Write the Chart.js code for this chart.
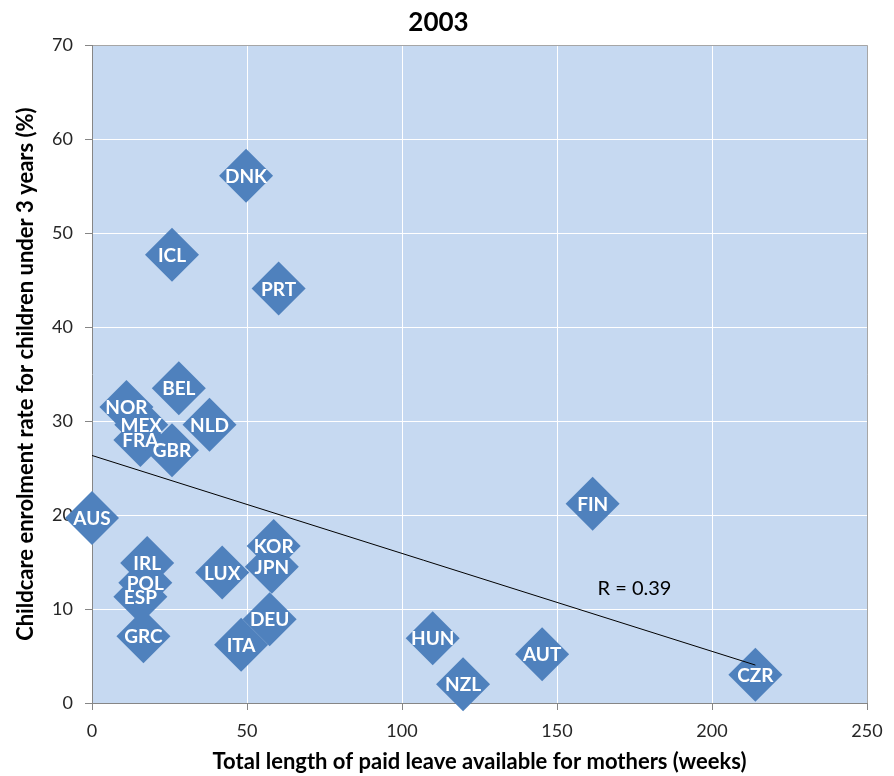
<!DOCTYPE html>
<html>
<head>
<meta charset="utf-8">
<script src="https://cdn.jsdelivr.net/npm/chart.js@4"></script>
<style>
  html, body { margin: 0; padding: 0; background: #fff; }
  #wrap { width: 894px; height: 776px; }
</style>
</head>
<body>
<div id="wrap"><canvas id="myChart" width="894" height="776"></canvas></div>
<script>
const countries = ["DNK", "ICL", "PRT", "BEL", "NOR", "MEX", "FRA", "GBR", "NLD", "AUS", "IRL", "POL",
  "ESP", "GRC", "LUX", "KOR", "JPN", "DEU", "ITA", "HUN", "NZL", "AUT", "FIN", "CZR"];
const leaveWeeks = [49.7, 25.8, 60.2, 28, 11.1, 15.9, 15.6, 25.8, 37.9, 0, 17.8, 17.2,
  15.6, 16.6, 42, 58.6, 58, 57.3, 48.1, 109.9, 119.7, 145.2, 161.5, 214];
const enrolment = [56.1, 47.7, 44.1, 33.5, 31.5, 29.6, 28, 26.9, 29.6, 19.7, 14.9, 12.8,
  11.3, 7.1, 13.9, 16.7, 14.5, 8.9, 6.2, 6.9, 2.0, 5.2, 21.2, 3.0];
const xTicks = [0, 50, 100, 150, 200, 250];
const yTicks = [0, 10, 20, 30, 40, 50, 60, 70];
const rLabel = "R = 0.39";
const rLabelAt = [175, 12.2];

// least squares trend line over the data
const n = leaveWeeks.length;
const mx = leaveWeeks.reduce((a, b) => a + b, 0) / n;
const my = enrolment.reduce((a, b) => a + b, 0) / n;
let sxy = 0, sxx = 0;
for (let i = 0; i < n; i++) {
  sxy += (leaveWeeks[i] - mx) * (enrolment[i] - my);
  sxx += (leaveWeeks[i] - mx) ** 2;
}
const slope = sxy / sxx;
const intercept = my - slope * mx;
const xMin = Math.min(...leaveWeeks), xMax = Math.max(...leaveWeeks);
const trend = [xMin, xMax].map(x => ({ x: x, y: intercept + slope * x }));

const FONT = "Lato, 'Open Sans', sans-serif";

const plotBg = {
  id: 'plotBg',
  beforeDraw(chart) {
    const { ctx, chartArea } = chart;
    ctx.save();
    ctx.fillStyle = '#fff';
    ctx.fillRect(0, 0, chart.width, chart.height);
    ctx.fillStyle = '#C6D9F1';
    ctx.fillRect(chartArea.left, chartArea.top, chartArea.right - chartArea.left, chartArea.bottom - chartArea.top);
    ctx.restore();
  }
};

const pointLabels = {
  id: 'pointLabels',
  afterDatasetsDraw(chart) {
    const { ctx, scales } = chart;
    const meta = chart.getDatasetMeta(1);
    ctx.save();
    ctx.fillStyle = '#fff';
    ctx.font = "bold 19px " + FONT;
    ctx.textAlign = 'center';
    ctx.textBaseline = 'middle';
    meta.data.forEach((pt, i) => {
      ctx.fillText(countries[i], pt.x, pt.y + 1);
    });
    ctx.fillStyle = '#000';
    ctx.font = "20px " + FONT;
    ctx.fillText(rLabel, scales.x.getPixelForValue(rLabelAt[0]), scales.y.getPixelForValue(rLabelAt[1]));
    ctx.restore();
  }
};

const ctx = document.getElementById("myChart");

new Chart(ctx, {
  type: "scatter",
  plugins: [plotBg, pointLabels],
  data: {
    datasets: [
      {
        type: 'line',
        label: 'trend',
        data: trend,
        borderColor: '#000',
        borderWidth: 1,
        pointRadius: 0,
        fill: false,
        clip: false,
        order: 0,
      },
      {
        label: 'countries',
        data: leaveWeeks.map((x, i) => ({ x: x, y: enrolment[i] })),
        pointStyle: 'rectRot',
        pointRadius: 27,
        pointHoverRadius: 27,
        backgroundColor: '#4F81BD',
        borderColor: '#4F81BD',
        borderWidth: 0,
        clip: false,
        order: 1,
      },
    ],
  },
  options: {
    responsive: false,
    animation: false,
    layout: {
      padding: { left: 0, right: 17, top: 0, bottom: 0 }
    },
    plugins: {
      legend: { display: false },
      tooltip: { enabled: false },
      title: {
        display: true,
        text: "2003",
        color: '#000',
        font: { family: FONT, size: 26, weight: 'bold' },
        padding: { top: 7, bottom: 7 },
      },
    },
    scales: {
      x: {
        type: 'linear',
        min: 0,
        max: 250,
        afterBuildTicks(scale) {
          scale.ticks = xTicks.map(v => ({ value: v }));
        },
        afterFit(scale) {
          scale.height = 73;
          scale.paddingRight = 0;
          scale.paddingLeft = 0;
        },
        grid: {
          color: c => (c.tick && c.tick.value === 250) ? '#A6A6A6' : '#fff',
          tickColor: '#868686',
          tickLength: 7,
        },
        border: { color: '#868686' },
        ticks: {
          color: '#262626',
          padding: 10,
          maxRotation: 0,
          font: { family: FONT, size: 18 },
        },
        title: {
          display: true,
          text: "Total length of paid leave available for mothers (weeks)",
          color: '#000',
          font: { family: FONT, size: 22, weight: 'bold' },
          padding: { top: 0, bottom: 1 },
        },
      },
      y: {
        min: 0,
        max: 70,
        afterBuildTicks(scale) {
          scale.ticks = yTicks.map(v => ({ value: v }));
        },
        afterFit(scale) {
          scale.width = 92;
          scale.paddingRight = 0;
          scale.paddingLeft = 0;
        },
        grid: {
          color: c => (c.tick && c.tick.value === 70) ? '#A6A6A6' : '#fff',
          tickColor: '#868686',
          tickLength: 7,
        },
        border: { color: '#868686' },
        ticks: {
          color: '#262626',
          padding: 12,
          font: { family: FONT, size: 18 },
        },
        title: {
          display: true,
          text: "Childcare enrolment rate for children under 3 years (%)",
          color: '#000',
          font: { family: FONT, size: 22, weight: 'bold' },
          padding: { top: 13, bottom: 0 },
        },
      },
    },
  },
});
</script>
</body>
</html>
